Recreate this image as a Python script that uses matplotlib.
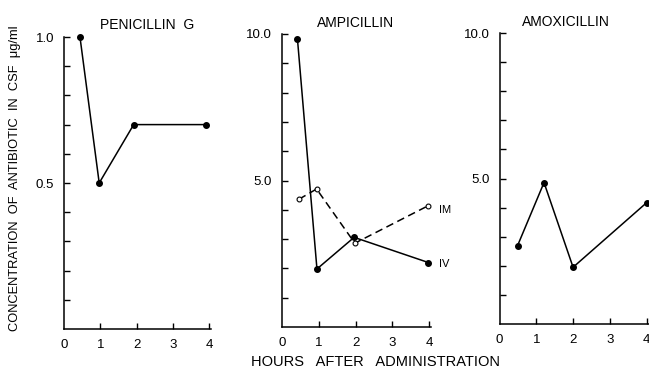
import matplotlib
matplotlib.use("Agg")
import matplotlib.pyplot as plt
import numpy as np

plt.rcParams['font.family'] = ['Liberation Sans', 'DejaVu Sans']

# data (hours, ug/ml)
pen_x = [0.44, 0.97, 1.92, 3.92]
pen_y = [1.0, 0.5, 0.7, 0.7]

amp_iv_x = [0.42, 0.95, 1.96, 3.98]
amp_iv_y = [9.83, 1.98, 3.06, 2.2]
amp_im_x = [0.46, 0.94, 1.98, 3.96]
amp_im_y = [4.36, 4.71, 2.86, 4.13]

amox_x = [0.49, 1.21, 2.0, 4.0]
amox_y = [2.69, 4.86, 1.95, 4.17]

x_ticks = [1, 2, 3, 4]
x_labels = ['0', '1', '2', '3', '4']

W, H = 649, 375
fig = plt.figure(figsize=(W / 100, H / 100), dpi=100)


def px_axes(left, bottom_px, right, top_px):
    return fig.add_axes([left / W, (H - bottom_px) / H,
                         (right - left) / W, (bottom_px - top_px) / H])


def style(ax, ymax, top_lab, mid_lab):
    for s in ['top', 'right']:
        ax.spines[s].set_visible(False)
    for s in ['left', 'bottom']:
        ax.spines[s].set_linewidth(1.1)
    ax.set_xlim(0, 4.05)
    ax.set_ylim(0, ymax)
    ax.set_xticks([0] + x_ticks)
    ax.set_xticklabels(x_labels)
    yt = np.linspace(0, ymax, 11)[1:]
    ax.set_yticks(yt)
    ax.set_yticklabels(['' for _ in yt[:4]] + [mid_lab] + ['' for _ in yt[5:9]] + [top_lab])
    ax.tick_params(direction='in', length=4, width=1.0, labelsize=9.5, pad=7, colors='black')
    ax.xaxis.get_major_ticks()[0].tick1line.set_visible(False)


ax1 = px_axes(64, 329, 211, 37)
ax1.plot(pen_x, pen_y, '-o', color='black', lw=1.1, ms=4, clip_on=False)
style(ax1, 1.0, '1.0', '0.5')

ax2 = px_axes(282, 327, 431, 34)
ax2.plot(amp_iv_x, amp_iv_y, '-o', color='black', lw=1.1, ms=4, clip_on=False)
ax2.plot(amp_im_x, amp_im_y, '--o', color='black', lw=1.1, ms=3.5,
         mfc='white', mew=0.8, dashes=(5, 3), clip_on=False)
style(ax2, 10.0, '10.0', '5.0')
ax2.text(4.28, amp_im_y[-1] - 0.15, 'IM', fontsize=8, va='center', clip_on=False)
ax2.text(4.28, amp_iv_y[-1] - 0.05, 'IV', fontsize=8, va='center', clip_on=False)

ax3 = px_axes(499.5, 324, 648.5, 33)
ax3.plot(amox_x, amox_y, '-o', color='black', lw=1.1, ms=4, clip_on=False)
style(ax3, 10.0, '10.0', '5.0')

fig.text(147 / W, 1 - 25 / H, 'PENICILLIN  G', ha='center', va='center', fontsize=10)
fig.text(356 / W, 1 - 23 / H, 'AMPICILLIN', ha='center', va='center', fontsize=10)
fig.text(566 / W, 1 - 22 / H, 'AMOXICILLIN', ha='center', va='center', fontsize=10)

fig.text(15 / W, 1 - 178 / H, 'CONCENTRATION  OF  ANTIBIOTIC  IN  CSF  \u03bcg/ml',
         rotation=90, ha='center', va='center', fontsize=9.3)
fig.text(375 / W, 1 - 362 / H, 'HOURS   AFTER   ADMINISTRATION',
         ha='center', va='center', fontsize=10.5)

fig.savefig('out.png', dpi=100)
